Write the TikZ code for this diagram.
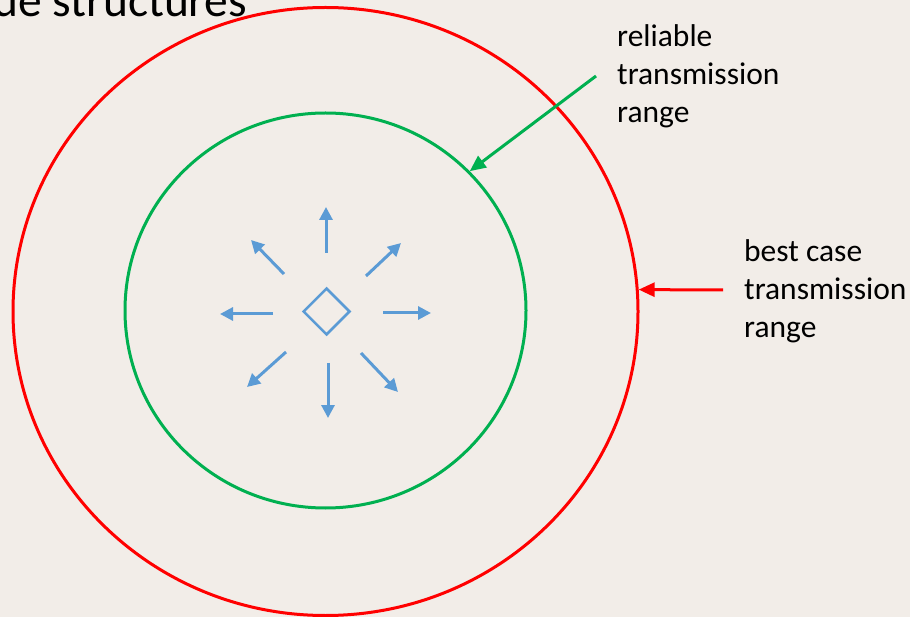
\documentclass[tikz,border=0pt]{standalone}
\usepackage{fontspec}
\setmainfont{Carlito}
\usetikzlibrary{arrows.meta,shapes.geometric}
\definecolor{bgcol}{HTML}{F2EDE8}
\definecolor{rangered}{HTML}{FF0000}
\definecolor{rangegreen}{HTML}{00B050}
\definecolor{sigblue}{HTML}{5B9BD5}
\begin{document}
\begin{tikzpicture}[x=1pt,y=-1pt,
  sig/.style={draw=sigblue, line width=3pt, -{Triangle[length=13pt,width=13pt]}},
  lbl/.style={anchor=base west, inner sep=0, align=left, font=\fontsize{31.5}{38}\selectfont},
  rangering/.style={ellipse, draw, line width=3pt, inner sep=0pt},
  pointer/.style={line width=3pt, -{Triangle[length=16pt,width=14pt]}}]
\useasboundingbox (0,0) rectangle (910,617);
\clip (0,0) rectangle (910,617);
\fill[bgcol] (0,0) rectangle (910,617);
\node[anchor=base west, inner sep=0, font=\fontsize{47.5}{56}\selectfont] (title) at (-7,17) {de structures};
\node[rangering, draw=rangered, minimum width=625pt, minimum height=608pt] (outer) at (325.5,311.5) {};
\node[rangering, draw=rangegreen, minimum width=401pt, minimum height=395pt] (inner) at (325.5,310.5) {};
\node[diamond, draw=sigblue, line width=2.5pt, inner sep=0pt, minimum width=47pt, minimum height=47pt] (src) at (326.5,311.5) {};
\coordinate (us) at (326,253); \coordinate (ue) at (326,207);
\coordinate (uls) at (284,274); \coordinate (ule) at (251,240);
\coordinate (urs) at (366,276); \coordinate (ure) at (401,243);
\coordinate (ls) at (273,314); \coordinate (le) at (220,314);
\coordinate (rs) at (383,313); \coordinate (re) at (431,313);
\coordinate (dls) at (286,352); \coordinate (dle) at (247,387);
\coordinate (ds) at (328,363); \coordinate (de) at (328,418);
\coordinate (drs) at (361,353); \coordinate (dre) at (398,392);
\draw[sig] (us) -- (ue);
\draw[sig] (uls) -- (ule);
\draw[sig] (urs) -- (ure);
\draw[sig] (ls) -- (le);
\draw[sig] (rs) -- (re);
\draw[sig] (dls) -- (dle);
\draw[sig] (ds) -- (de);
\draw[sig] (drs) -- (dre);
\node[lbl] (rel) at (617,123) {reliable\\transmission\\range};
\node[lbl] (best) at (744,338) {best case\\transmission\\range};
\coordinate (gstart) at (596,76);
\coordinate (rstart) at (723,290);
\draw[pointer, rangegreen] (gstart) -- (inner.44);
\draw[pointer, rangered] (rstart) -- (outer.4);
\end{tikzpicture}
\end{document}
